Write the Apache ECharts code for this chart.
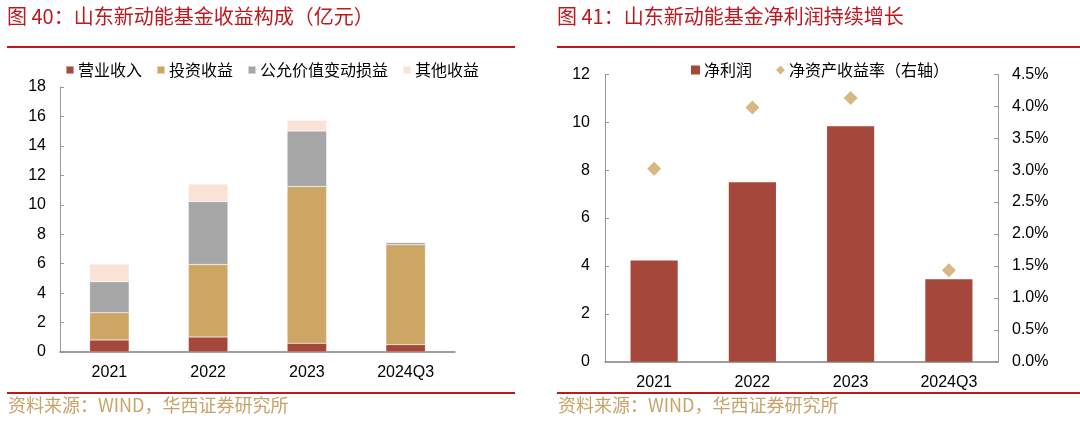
<!DOCTYPE html>
<html><head><meta charset="utf-8">
<script src="https://cdn.jsdelivr.net/npm/echarts@6/dist/echarts.min.js"></script>
<style>html,body{margin:0;padding:0;background:#fff}#c{width:1080px;height:426px}</style>
</head><body><div id="c"></div>
<script>
const years = ['2021', '2022', '2023', '2024Q3'];
const revenue = [0.82, 1.02, 0.59, 0.50];
const investment = [1.85, 4.92, 10.66, 6.78];
const fairValue = [2.11, 4.28, 3.76, 0.16];
const otherIncome = [1.20, 1.19, 0.73, 0];
const netProfit = [4.23, 7.49, 9.83, 3.44];
const roe = [3.02, 3.98, 4.13, 1.43];
const leftTicks = { min: 0, max: 18, interval: 2 };
const rightTicks = { min: 0, max: 12, interval: 2 };
const roeTicks = { min: 0, max: 4.5, interval: 0.5 };

const cRed = '#A5473A', cTan = '#CDA664', cGray = '#A6A6A6', cPink = '#FAE2D6';
const titleRed = '#C0161C', srcColor = '#C9A26B';
const NUM = '"Liberation Sans", Arial, sans-serif';
const CJK = '"Noto Sans CJK SC", sans-serif';

const chart = echarts.init(document.getElementById('c'), null, { renderer: 'canvas' });
const axisLabel = { color: '#000', fontSize: 16, fontFamily: NUM };
chart.setOption({
  animation: false,
  textStyle: { fontFamily: CJK },
  graphic: [
    { type: 'text', left: 7, top: 6, style: { text: '图 40：山东新动能基金收益构成（亿元）', fill: titleRed, font: '20px ' + CJK } },
    { type: 'text', left: 557, top: 6, style: { text: '图 41：山东新动能基金净利润持续增长', fill: titleRed, font: '20px ' + CJK } },
    { type: 'line', shape: { x1: 7, y1: 47, x2: 515, y2: 47 }, style: { stroke: titleRed, lineWidth: 2 } },
    { type: 'line', shape: { x1: 557, y1: 47, x2: 1080, y2: 47 }, style: { stroke: titleRed, lineWidth: 2 } },
    { type: 'line', shape: { x1: 7, y1: 393, x2: 515, y2: 393 }, style: { stroke: titleRed, lineWidth: 1.8 } },
    { type: 'line', shape: { x1: 557, y1: 393, x2: 1080, y2: 393 }, style: { stroke: titleRed, lineWidth: 1.8 } },
    { type: 'text', left: 8, top: 396, style: { text: '资料来源：WIND，华西证券研究所', fill: srcColor, font: '18px ' + CJK } },
    { type: 'text', left: 558, top: 396, style: { text: '资料来源：WIND，华西证券研究所', fill: srcColor, font: '18px ' + CJK } }
  ],
  legend: [
    { left: 60, top: 57, itemWidth: 8, itemHeight: 8, itemGap: 14, icon: 'rect',
      textStyle: { color: '#000', fontSize: 16, fontFamily: CJK, padding: [0, 0, 0, -1] },
      data: ['营业收入', '投资收益', '公允价值变动损益', '其他收益'] },
    { left: 686, top: 57, itemWidth: 9, itemHeight: 9, itemGap: 24,
      textStyle: { color: '#000', fontSize: 16, fontFamily: CJK, padding: [0, 0, 0, -1] },
      data: [{ name: '净利润', icon: 'rect' }, { name: '净资产收益率（右轴）', icon: 'diamond' }] }
  ],
  grid: [
    { left: 60, right: 625, top: 87, bottom: 74 },
    { left: 605, right: 82, top: 74.3, bottom: 64.3 }
  ],
  xAxis: [
    { type: 'category', gridIndex: 0, data: years,
      axisLine: { lineStyle: { color: '#808080', width: 1.5 } },
      axisTick: { inside: true, length: 5, lineStyle: { color: '#808080' } },
      axisLabel: Object.assign({ margin: 13 }, axisLabel) },
    { type: 'category', gridIndex: 1, data: years,
      axisLine: { lineStyle: { color: '#808080', width: 1.5 } },
      axisTick: { show: false },
      axisLabel: Object.assign({ margin: 13 }, axisLabel) }
  ],
  yAxis: [
    { type: 'value', gridIndex: 0, min: leftTicks.min, max: leftTicks.max, interval: leftTicks.interval,
      splitLine: { show: false },
      axisLine: { show: true, lineStyle: { color: '#999' } },
      axisTick: { show: true, inside: true, length: 4, lineStyle: { color: '#999' } },
      axisLabel: Object.assign({ margin: 14 }, axisLabel) },
    { type: 'value', gridIndex: 1, min: rightTicks.min, max: rightTicks.max, interval: rightTicks.interval,
      splitLine: { show: false },
      axisLine: { show: true, lineStyle: { color: '#999' } },
      axisTick: { show: true, inside: true, length: 4, lineStyle: { color: '#999' } },
      axisLabel: Object.assign({ margin: 15 }, axisLabel) },
    { type: 'value', gridIndex: 1, position: 'right', min: roeTicks.min, max: roeTicks.max, interval: roeTicks.interval,
      splitLine: { show: false },
      axisLine: { show: true, lineStyle: { color: '#999' } },
      axisTick: { show: true, inside: true, length: 4, lineStyle: { color: '#999' } },
      axisLabel: Object.assign({ margin: 14, formatter: v => v.toFixed(1) + '%' }, axisLabel) }
  ],
  series: [
    { name: '营业收入', type: 'bar', stack: 'a', xAxisIndex: 0, yAxisIndex: 0, barWidth: '40%', data: revenue,
      itemStyle: { color: cRed, borderColor: 'rgba(255,255,255,0.5)', borderWidth: 0.5 } },
    { name: '投资收益', type: 'bar', stack: 'a', xAxisIndex: 0, yAxisIndex: 0, barWidth: '40%', data: investment,
      itemStyle: { color: cTan, borderColor: 'rgba(255,255,255,0.5)', borderWidth: 0.5 } },
    { name: '公允价值变动损益', type: 'bar', stack: 'a', xAxisIndex: 0, yAxisIndex: 0, barWidth: '40%', data: fairValue,
      itemStyle: { color: cGray, borderColor: 'rgba(255,255,255,0.5)', borderWidth: 0.5 } },
    { name: '其他收益', type: 'bar', stack: 'a', xAxisIndex: 0, yAxisIndex: 0, barWidth: '40%', data: otherIncome,
      itemStyle: { color: cPink, borderColor: 'rgba(255,255,255,0.5)', borderWidth: 0.5 } },
    { name: '净利润', type: 'bar', xAxisIndex: 1, yAxisIndex: 1, barWidth: '48%', data: netProfit,
      itemStyle: { color: cRed } },
    { name: '净资产收益率（右轴）', type: 'scatter', xAxisIndex: 1, yAxisIndex: 2, symbol: 'diamond', symbolSize: 14, data: roe,
      itemStyle: { color: cTan } }
  ]
});
</script></body></html>
